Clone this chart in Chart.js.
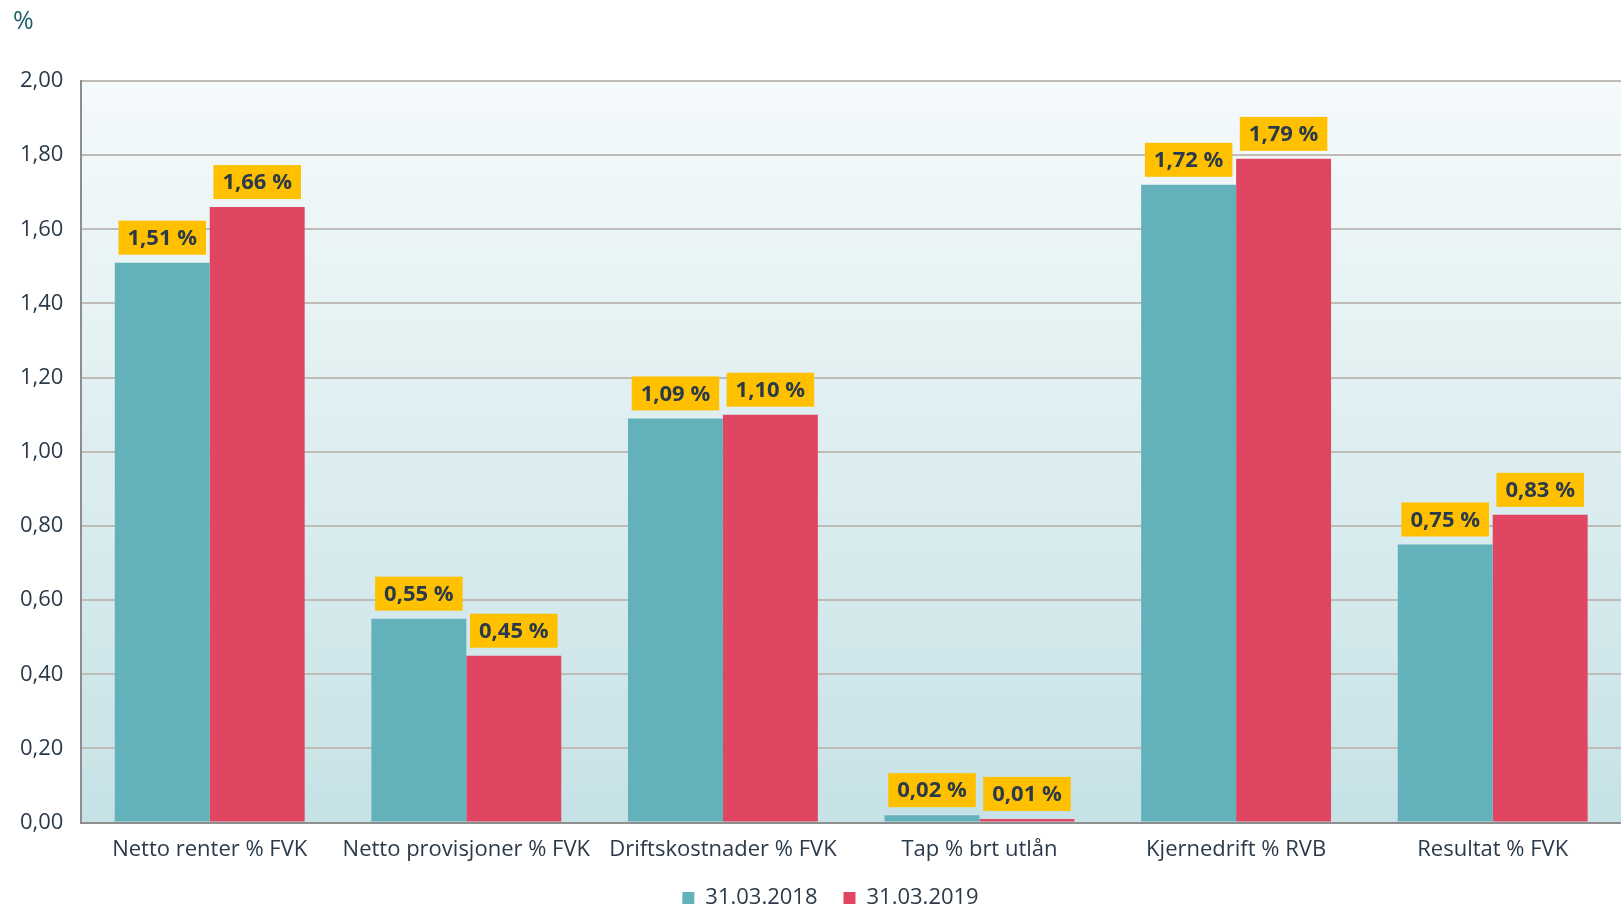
<!DOCTYPE html>
<html>
<head>
<meta charset="utf-8">
<script src="https://cdn.jsdelivr.net/npm/chart.js@4/dist/chart.umd.min.js"></script>
<style>
html,body{margin:0;padding:0;background:#fff;}
#wrap{width:1621px;height:908px;position:relative;}
</style>
</head>
<body>
<div id="wrap"><canvas id="c"></canvas></div>
<script>
const categories = ["Netto renter % FVK","Netto provisjoner % FVK","Driftskostnader % FVK","Tap % brt utlån","Kjernedrift % RVB","Resultat % FVK"];
const seriesNames = ["31.03.2018","31.03.2019"];
const values2018 = [1.51,0.55,1.09,0.02,1.72,0.75];
const values2019 = [1.66,0.45,1.10,0.01,1.79,0.83];
const yTicks = [0,0.2,0.4,0.6,0.8,1.0,1.2,1.4,1.6,1.8,2.0];

const FONT = "'Open Sans', 'Noto Sans', sans-serif";
const TEXT = "#2b3a4a";
const fmt = v => v.toFixed(2).replace('.', ',');

const bgPlugin = {
  id: 'bg',
  afterLayout(chart) {
    if (chart.legend) { chart.legend.left += 19; chart.legend.right += 19; }
  },
  beforeDraw(chart) {
    const {ctx, chartArea:a} = chart;
    const g = ctx.createLinearGradient(0, a.top, 0, a.bottom);
    g.addColorStop(0, '#f5fafb');
    g.addColorStop(1, '#c6e2e6');
    ctx.save();
    ctx.fillStyle = g;
    ctx.fillRect(a.left, a.top, a.right - a.left, a.bottom - a.top);
    ctx.fillStyle = '#1f5f68';
    ctx.font = "25px " + FONT;
    ctx.textBaseline = 'middle';
    ctx.textAlign = 'left';
    ctx.fillText('%', 13, 22);
    ctx.restore();
  }
};

const labelPlugin = {
  id: 'vlabels',
  afterDatasetsDraw(chart) {
    const {ctx} = chart;
    ctx.save();
    ctx.font = "bold 22px " + FONT;
    ctx.textAlign = 'center';
    ctx.textBaseline = 'middle';
    chart.data.datasets.forEach((ds, di) => {
      const meta = chart.getDatasetMeta(di);
      meta.data.forEach((bar, i) => {
        const txt = fmt(ds.data[i]) + ' %';
        const w = ctx.measureText(txt).width + 18;
        const h = 34;
        const x = bar.x;
        const bottom = bar.y - 8;
        ctx.fillStyle = '#ffc000';
        ctx.fillRect(x - w/2, bottom - h, w, h);
        ctx.fillStyle = TEXT;
        ctx.fillText(txt, x, bottom - h/2 + 1);
      });
    });
    ctx.restore();
  }
};

new Chart(document.getElementById('c'), {
  type: 'bar',
  data: {
    labels: categories,
    datasets: [
      {label: seriesNames[0], data: values2018, backgroundColor: '#63b1bb', borderWidth: 0},
      {label: seriesNames[1], data: values2019, backgroundColor: '#e04562', borderWidth: 0}
    ]
  },
  options: {
    responsive: true,
    maintainAspectRatio: false,
    animation: false,
    layout: {padding: {top: 81, right: 0, left: 2, bottom: -11}},
    datasets: {bar: {categoryPercentage: 0.74, barPercentage: 1.0}},
    plugins: {
      legend: {
        position: 'bottom',
        labels: {
          font: {family: FONT, size: 22},
          color: TEXT,
          boxWidth: 12, boxHeight: 12,
          padding: 26
        }
      },
      tooltip: {enabled: false}
    },
    scales: {
      x: {
        afterFit(axis) { axis.height -= 16; },
        grid: {display: false, drawTicks: false},
        border: {display: true, color: '#8e8e8e', width: 2},
        ticks: {font: {family: FONT, size: 22}, color: TEXT, padding: 14, maxRotation: 0, autoSkip: false}
      },
      y: {
        min: 0, max: 2,
        afterBuildTicks(axis) { axis.ticks = yTicks.map(v => ({value: v})); },
        grid: {color: '#bfbbb7', lineWidth: 2, drawTicks: false},
        border: {display: true, color: '#8e8e8e', width: 2},
        ticks: {font: {family: FONT, size: 22}, color: TEXT, padding: 18, callback: v => fmt(v)}
      }
    }
  },
  plugins: [bgPlugin, labelPlugin]
});
</script>
</body>
</html>
